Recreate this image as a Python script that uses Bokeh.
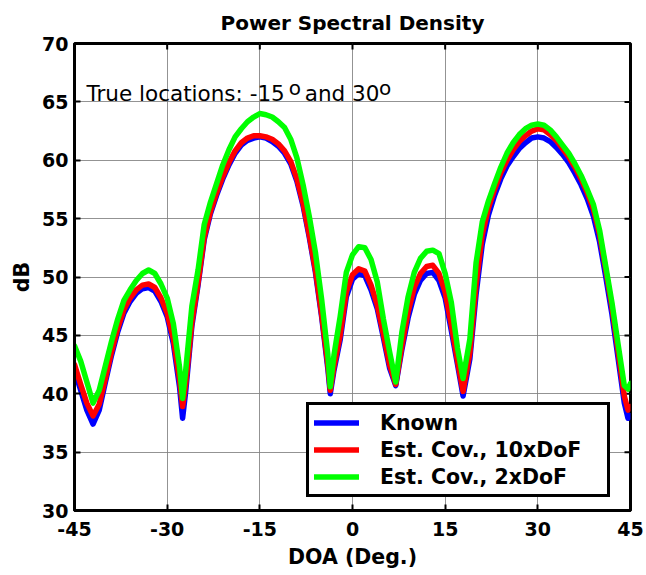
from bokeh.plotting import figure
from bokeh.models import Range1d, FixedTicker, Legend, LegendItem, Label
from bokeh.embed import file_html
from bokeh.resources import INLINE

# ---- data ----
doa = [-45, -44, -43, -42, -41, -40, -39, -38, -37, -36, -35, -34, -33, -32, -31, -30, -29, -28, -27.5,
       -27, -26, -25, -24, -23, -22, -21, -20, -19, -18, -17, -16, -15, -14, -13, -12, -11, -10, -9, -8,
       -7, -6, -5, -4, -3.6, -3, -2, -1, 0, 1, 2, 3, 4, 5, 6, 7, 8, 9, 10, 11, 12, 13, 14, 15, 16, 17,
       17.9, 19, 20, 21, 22, 23, 24, 25, 26, 27, 28, 29, 30, 31, 32, 33, 34, 35, 36, 37, 38, 39, 40, 41,
       42, 43, 44, 44.6, 45]

known = [42.0, 40.3, 38.6, 37.4, 38.6, 41.0, 43.3, 45.3, 46.9, 47.9, 48.6, 49.0, 49.1, 48.8, 47.9, 46.6, 44.3, 40.6, 37.9,
         40.2, 45.8, 49.3, 53.2, 55.4, 57.0, 58.4, 59.6, 60.6, 61.3, 61.7, 61.9, 62.0, 61.9, 61.6, 61.2, 60.6, 59.7, 58.2, 56.1,
         53.4, 50.4, 46.6, 42.2, 40.0, 42.0, 44.6, 48.3, 49.8, 50.3, 50.1, 48.9, 47.3, 44.8, 42.2, 40.7, 43.8, 46.5, 48.5, 49.7, 50.3, 50.4, 49.7, 48.2, 45.4, 42.5,
         39.8, 43.0, 48.5, 52.8, 55.3, 57.0, 58.4, 59.5, 60.3, 61.0, 61.5, 61.9, 62.0, 61.9, 61.6, 61.1, 60.5, 59.8, 58.9, 57.9, 56.7, 55.2, 53.0, 50.0,
         46.8, 43.0, 39.2, 37.9, 38.1]

est_10dof = [42.5, 40.8, 39.2, 38.1, 39.1, 41.3, 43.6, 45.6, 47.2, 48.2, 48.9, 49.3, 49.4, 49.1, 48.2, 46.9, 44.7, 41.2, 38.9,
             40.8, 46.1, 49.5, 53.4, 55.6, 57.2, 58.6, 59.8, 60.8, 61.5, 61.9, 62.1, 62.1, 62.0, 61.8, 61.4, 60.8, 59.9, 58.4, 56.3,
             53.6, 50.6, 46.8, 42.5, 40.3, 42.3, 45.0, 48.7, 50.2, 50.7, 50.5, 49.3, 47.6, 45.1, 42.5, 40.8, 44.1, 47.0, 49.1, 50.3, 50.9, 51.0, 50.3, 48.7, 45.9, 42.8,
             40.2, 43.5, 49.3, 53.6, 55.9, 57.5, 58.9, 60.0, 60.9, 61.6, 62.1, 62.5, 62.7, 62.6, 62.2, 61.7, 61.0, 60.3, 59.4, 58.4, 57.2, 55.8, 53.6, 50.6,
             47.4, 43.6, 39.8, 38.6, 38.9]

est_2dof = [44.1, 42.8, 41.0, 39.2, 40.3, 42.4, 44.5, 46.4, 48.0, 48.9, 49.7, 50.3, 50.6, 50.3, 49.4, 48.2, 46.0, 42.3, 39.6,
            42.0, 47.5, 50.6, 54.5, 56.4, 58.0, 59.6, 60.9, 62.0, 62.7, 63.3, 63.7, 64.0, 63.9, 63.7, 63.3, 62.8, 61.8, 60.2, 57.9,
            55.2, 52.1, 48.1, 43.4, 40.6, 43.3, 46.6, 50.4, 51.9, 52.6, 52.5, 51.5, 49.6, 46.4, 43.6, 41.0, 45.3, 48.3, 50.4, 51.6, 52.2, 52.3, 52.0, 50.3, 47.8, 43.9,
            41.3, 44.7, 51.2, 54.7, 56.5, 58.0, 59.4, 60.6, 61.5, 62.2, 62.7, 63.0, 63.1, 63.0, 62.6, 62.0, 61.3, 60.6, 59.7, 58.7, 57.5, 56.2, 54.0, 50.9,
            47.8, 44.2, 40.7, 40.4, 40.9]

series_names = ["Known", "Est. Cov., 10xDoF", "Est. Cov., 2xDoF"]
series_colors = ["#0000ff", "#ff0000", "#00ff00"]
x_ticks = [-45, -30, -15, 0, 15, 30, 45]
y_ticks = [30, 35, 40, 45, 50, 55, 60, 65, 70]
x_tick_labels = ["-45", "-30", "-15", "0", "15", "30", "45"]

FONT = "DejaVu Sans"
X0, X1, Y0, Y1 = -45, 45, 30, 70
W, H = 646, 575
BL, BR, BT, BB = 74, 16, 43, 65

p = figure(width=W, height=H, output_backend="svg", toolbar_location=None,
           x_range=Range1d(X0, X1), y_range=Range1d(Y0, Y1),
           min_border_left=BL, min_border_right=BR, min_border_top=BT, min_border_bottom=BB,
           title="Power Spectral Density")
p.background_fill_color = "white"
p.border_fill_color = "white"
p.outline_line_color = "black"
p.outline_line_width = 3
p.outline_line_alpha = 1.0

p.title.text_font = FONT
p.title.text_font_size = "20px"
p.title.text_font_style = "bold"
p.title.text_color = "black"
p.title.align = "center"
p.title.standoff = 14
p.title.vertical_align = "top"

for ax in (p.xaxis[0], p.yaxis[0]):
    ax.major_label_text_font = FONT
    ax.major_label_text_font_size = "19px"
    ax.major_label_text_font_style = "bold"
    ax.major_label_text_color = "black"
    ax.axis_label_text_font = FONT
    ax.axis_label_text_font_size = "20.5px"
    ax.axis_label_text_font_style = "bold"
    ax.axis_label_text_color = "black"
    ax.axis_line_width = 3
    ax.axis_line_color = "black"
    ax.major_tick_in = 6
    ax.major_tick_out = 0
    ax.major_tick_line_width = 2
    ax.major_tick_line_color = "black"
    ax.minor_tick_line_color = None

p.xaxis[0].ticker = FixedTicker(ticks=x_ticks)
p.xaxis[0].major_label_overrides = {t: s for t, s in zip(x_ticks, x_tick_labels)}
p.yaxis[0].ticker = FixedTicker(ticks=y_ticks)
p.xaxis[0].axis_label = "DOA (Deg.)"
p.yaxis[0].axis_label = "dB"
p.xaxis[0].major_label_standoff = 11
p.xaxis[0].axis_label_standoff = 6
p.yaxis[0].major_label_standoff = 6
p.yaxis[0].axis_label_standoff = 5

p.xgrid.ticker = FixedTicker(ticks=x_ticks)
p.ygrid.ticker = FixedTicker(ticks=y_ticks)
for g in (p.xgrid[0], p.ygrid[0]):
    g.grid_line_color = "#808080"
    g.grid_line_width = 1
    g.grid_line_alpha = 0.85

# inward ticks on the top and right edges of the box (6 px long)
tick_px = 6.0
dy = (Y1 - Y0) / (H - BT - BB) * tick_px
dx = (X1 - X0) / (W - BL - BR) * tick_px
p.segment(x0=x_ticks, y0=[Y1] * len(x_ticks), x1=x_ticks, y1=[Y1 - dy] * len(x_ticks),
          line_color="black", line_width=2)
p.segment(x0=[X1] * len(y_ticks), y0=y_ticks, x1=[X1 - dx] * len(y_ticks), y1=y_ticks,
          line_color="black", line_width=2)

renderers = []
for ys, c in zip([known, est_10dof, est_2dof], series_colors):
    r = p.line(doa, ys, line_color=c, line_width=5.5, line_join="round", line_cap="round")
    renderers.append(r)

legend = Legend(items=[LegendItem(label=n, renderers=[r]) for n, r in zip(series_names, renderers)],
                location=(232, 13))
legend.label_text_font = FONT
legend.label_text_font_size = "20.5px"
legend.label_text_font_style = "bold"
legend.label_text_color = "black"
legend.glyph_width = 45
legend.glyph_height = 25
legend.label_height = 25
legend.label_width = 222
legend.label_standoff = 21
legend.padding = 5
legend.spacing = 2
legend.border_line_color = "black"
legend.border_line_alpha = 1.0
legend.border_line_width = 3
legend.background_fill_color = "white"
legend.background_fill_alpha = 1.0
p.add_layout(legend)

# annotation with superscript "o"
base_y = 65.75
sup_y = 66.15
ann = [("True locations: -15", -43.05, base_y, "21.5px"),
       ("o", -10.3, sup_y, "20px"),
       ("and 30", -7.72, base_y, "21.5px"),
       ("o", 4.3, sup_y, "20px")]
for t, xx, yy, fs in ann:
    p.add_layout(Label(x=xx, y=yy, text=t, text_font=FONT, text_font_size=fs,
                       text_baseline="alphabetic", text_color="black"))

open("out.html", "w").write(file_html(p, INLINE))
